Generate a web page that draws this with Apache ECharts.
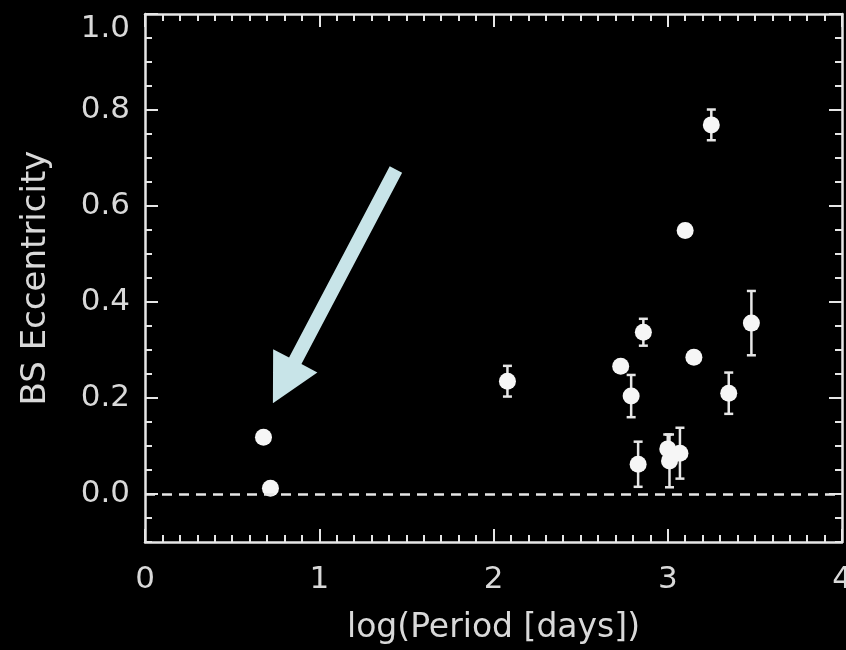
<!DOCTYPE html>
<html>
<head>
<meta charset="utf-8">
<script src="https://cdn.jsdelivr.net/npm/echarts@6/dist/echarts.min.js"></script>
<style>
  html, body { margin: 0; padding: 0; background: #000; }
  #chart { width: 846px; height: 650px; }
</style>
</head>
<body>
<div id="chart"></div>
<script>
// Blue straggler binaries: orbital period (log days) vs. eccentricity
const logPeriod    = [0.68, 0.72, 2.08, 2.73, 2.79, 2.83, 2.86, 3.00, 3.01, 3.07, 3.10, 3.15, 3.35, 3.48, 3.25];
const eccentricity = [0.118, 0.012, 0.235, 0.266, 0.204, 0.062, 0.337, 0.094, 0.069, 0.085, 0.549, 0.285, 0.210, 0.356, 0.769];
const eccError     = [0, 0, 0.032, 0, 0.044, 0.047, 0.028, 0.030, 0.055, 0.053, 0.012, 0.012, 0.043, 0.067, 0.032];

const xTicks = [0, 1, 2, 3, 4];
const yTicks = [0, 0.2, 0.4, 0.6, 0.8, 1.0];

// Annotation arrow pointing at the short-period systems (data coordinates)
const arrowTail = [1.44, 0.676];
const arrowTip  = [0.734, 0.189];

const FG = '#e6e6e6';
const TXT = '#d9d9d9';
const FONT = 'DejaVu Sans';
const LW = 2.5;

const chart = echarts.init(document.getElementById('chart'));

function xAxisDef(position, withLabels) {
  return {
    type: 'value', position: position, min: 0, max: 4, interval: 1,
    axisLine: { show: true, onZero: false, lineStyle: { color: FG, width: LW } },
    axisTick: { show: true, inside: true, length: 13, lineStyle: { color: FG, width: 2 } },
    minorTick: { show: true, splitNumber: 10, length: 7, lineStyle: { color: FG, width: 2 } },
    axisLabel: {
      show: withLabels, color: TXT, fontFamily: FONT, fontSize: 31, margin: 22,
      customValues: xTicks, formatter: v => String(Math.round(v))
    },
    splitLine: { show: false },
    name: withLabels ? 'log(Period [days])' : '',
    nameLocation: 'middle', nameGap: 70,
    nameTextStyle: { color: TXT, fontFamily: FONT, fontSize: 33 }
  };
}

function yMajorDef(position, withLabels) {
  return {
    type: 'value', position: position, min: -0.1, max: 1.0,
    axisLine: { show: true, onZero: false, lineStyle: { color: FG, width: LW } },
    axisTick: { show: true, inside: true, length: 13, customValues: yTicks, lineStyle: { color: FG, width: 2 } },
    axisLabel: {
      show: withLabels, color: TXT, fontFamily: FONT, fontSize: 31, margin: 15,
      customValues: yTicks,
      formatter: v => (Math.abs(v - 1) < 1e-9 ? '{top|' + v.toFixed(1) + '}' : v.toFixed(1)),
      rich: { top: { color: TXT, fontFamily: FONT, fontSize: 31, padding: [30, 0, 0, 0] } }
    },
    splitLine: { show: false },
    name: withLabels ? 'BS Eccentricity' : '',
    nameLocation: 'middle', nameGap: 92,
    nameTextStyle: { color: TXT, fontFamily: FONT, fontSize: 34 }
  };
}

function yMinorDef(position) {
  return {
    type: 'value', position: position, min: -0.1, max: 1.0, interval: 0.05,
    axisLine: { show: false, onZero: false },
    axisTick: { show: true, inside: true, length: 7, lineStyle: { color: FG, width: 2 } },
    axisLabel: { show: false },
    splitLine: { show: false }
  };
}

const errorData = logPeriod.map((x, i) => [x, eccentricity[i], eccError[i]]);
const pointData = logPeriod.map((x, i) => [x, eccentricity[i]]);

chart.setOption({
  backgroundColor: '#000',
  animation: false,
  grid: { left: 145, right: 4, top: 14, bottom: 108, containLabel: false, outerBoundsMode: 'none' },
  xAxis: [xAxisDef('bottom', true), xAxisDef('top', false)],
  yAxis: [yMajorDef('left', true), yMinorDef('left'), yMajorDef('right', false), yMinorDef('right')],
  series: [
    {
      type: 'custom',
      xAxisIndex: 0, yAxisIndex: 0,
      data: errorData,
      z: 3,
      renderItem: function (params, api) {
        const x = api.value(0), y = api.value(1), e = api.value(2);
        if (!e) return null;
        const top = api.coord([x, y + e]);
        const bot = api.coord([x, y - e]);
        const hw = 4.5;
        const st = { stroke: FG, lineWidth: LW };
        return {
          type: 'group',
          children: [
            { type: 'line', shape: { x1: top[0], y1: top[1], x2: bot[0], y2: bot[1] }, style: st },
            { type: 'line', shape: { x1: top[0] - hw, y1: top[1], x2: top[0] + hw, y2: top[1] }, style: st },
            { type: 'line', shape: { x1: bot[0] - hw, y1: bot[1], x2: bot[0] + hw, y2: bot[1] }, style: st }
          ]
        };
      }
    },
    {
      type: 'scatter',
      xAxisIndex: 0, yAxisIndex: 0,
      data: pointData,
      symbol: 'circle', symbolSize: 17,
      itemStyle: { color: '#f6f6f6', opacity: 1 },
      z: 4,
      markLine: {
        silent: true, symbol: 'none',
        label: { show: false },
        lineStyle: { color: FG, width: LW, type: [10, 7] },
        data: [{ yAxis: 0 }]
      }
    }
  ]
});

// Arrow annotation built in data space and converted to pixels
(function drawArrow() {
  const p0 = chart.convertToPixel({ xAxisIndex: 0, yAxisIndex: 0 }, arrowTail);
  const p1 = chart.convertToPixel({ xAxisIndex: 0, yAxisIndex: 0 }, arrowTip);
  const dx = p1[0] - p0[0], dy = p1[1] - p0[1];
  const len = Math.hypot(dx, dy);
  const ux = dx / len, uy = dy / len;
  const nx = -uy, ny = ux;
  const headLen = 48, headHalf = 25, shaftHalf = 7;
  const bx = p1[0] - ux * headLen, by = p1[1] - uy * headLen;
  const pts = [
    [p0[0] + nx * shaftHalf, p0[1] + ny * shaftHalf],
    [bx + nx * shaftHalf, by + ny * shaftHalf],
    [bx + nx * headHalf, by + ny * headHalf],
    [p1[0], p1[1]],
    [bx - nx * headHalf, by - ny * headHalf],
    [bx - nx * shaftHalf, by - ny * shaftHalf],
    [p0[0] - nx * shaftHalf, p0[1] - ny * shaftHalf]
  ];
  chart.setOption({
    graphic: [{ type: 'polygon', shape: { points: pts }, style: { fill: '#c8e4e8' }, z: 10 }]
  });
})();
</script>
</body>
</html>
